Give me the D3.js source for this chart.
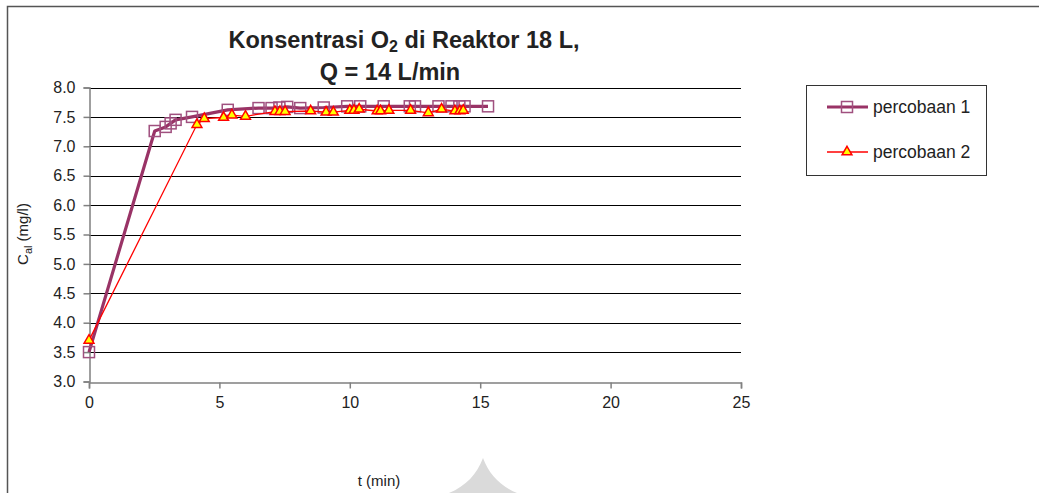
<!DOCTYPE html>
<html>
<head>
<meta charset="utf-8">
<script src="https://cdn.jsdelivr.net/npm/d3@7"></script>
<style>
  html, body { margin: 0; padding: 0; background: #fff; }
  svg { display: block; font-family: Arial, "Liberation Sans", sans-serif; }
</style>
</head>
<body>
<svg id="chart" width="1039" height="493"></svg>
<script>
// Oxygen concentration in the 18 L reactor, Q = 14 L/min
const series1Time = [0, 2.52, 2.94, 3.13, 3.32, 3.95, 5.32, 6.5, 7.0, 7.3, 7.6, 8.1, 9.0, 9.9, 10.4, 11.3, 12.3, 12.5, 13.4, 13.9, 14.2, 14.4, 15.3];
const series1Value = [3.5, 7.26, 7.33, 7.39, 7.45, 7.5, 7.62, 7.65, 7.65, 7.66, 7.67, 7.65, 7.66, 7.68, 7.68, 7.68, 7.68, 7.68, 7.68, 7.68, 7.68, 7.68, 7.68];

const series2Time = [0, 4.14, 4.42, 5.16, 5.48, 6.0, 7.13, 7.32, 7.52, 8.5, 9.09, 9.37, 10.0, 10.16, 10.36, 11.05, 11.18, 11.5, 12.33, 13.01, 13.52, 14.03, 14.22, 14.35];
const series2Value = [3.7, 7.37, 7.47, 7.49, 7.53, 7.51, 7.59, 7.59, 7.59, 7.6, 7.58, 7.58, 7.61, 7.61, 7.63, 7.6, 7.6, 7.61, 7.61, 7.57, 7.63, 7.6, 7.6, 7.61];

const seriesNames = ["percobaan 1", "percobaan 2"];
const xTicks = [0, 5, 10, 15, 20, 25];
const yTicks = [3.0, 3.5, 4.0, 4.5, 5.0, 5.5, 6.0, 6.5, 7.0, 7.5, 8.0];

const svg = d3.select("#chart");
const W = 1039, H = 493;

// outer chart frame (runs past the right and bottom edges)
svg.append("rect")
  .attr("x", 7.5).attr("y", 6.5)
  .attr("width", W + 20).attr("height", H + 20)
  .attr("fill", "none").attr("stroke", "#555").attr("stroke-width", 1.5);

const x = d3.scaleLinear().domain([0, 25]).range([89, 741]);
const y = d3.scaleLinear().domain([3, 8]).range([381.5, 87.5]);

// horizontal gridlines
svg.append("g").selectAll("line")
  .data(yTicks.filter(v => v > 3))
  .join("line")
  .attr("x1", x(0)).attr("x2", x(25))
  .attr("y1", d => Math.round(y(d)) + 0.5).attr("y2", d => Math.round(y(d)) + 0.5)
  .attr("stroke", "#000").attr("stroke-width", 1);

// axes
const xAxis = svg.append("g")
  .attr("transform", `translate(0,${Math.round(y(3)) + 0.5})`)
  .call(d3.axisBottom(x).tickValues(xTicks).tickSize(6).tickPadding(8).tickFormat(d3.format("d")));
const yAxis = svg.append("g")
  .attr("transform", `translate(${x(0) + 0.5},0)`)
  .call(d3.axisLeft(y).tickValues(yTicks).tickSize(6).tickPadding(8).tickFormat(d3.format(".1f")));

[xAxis, yAxis].forEach(g => {
  g.select(".domain").attr("stroke", "#808080").attr("stroke-width", 1.5);
  g.selectAll(".tick line").attr("stroke", "#808080").attr("stroke-width", 1.5);
  g.selectAll(".tick text").attr("fill", "#222").style("font-size", "16px")
    .style("font-family", "Arial, 'Liberation Sans', sans-serif");
});

const pts1 = series1Time.map((t, i) => [t, series1Value[i]]);
const pts2 = series2Time.map((t, i) => [t, series2Value[i]]);

// series 1: thick purple line with open squares
svg.append("path")
  .datum(pts1)
  .attr("fill", "none").attr("stroke", "#993366").attr("stroke-width", 3.2)
  .attr("stroke-linejoin", "round")
  .attr("d", d3.line().x(d => x(d[0])).y(d => y(d[1])));

const sq = 11;
svg.append("g").selectAll("rect")
  .data(pts1)
  .join("rect")
  .attr("x", d => x(d[0]) - sq / 2).attr("y", d => y(d[1]) - sq / 2)
  .attr("width", sq).attr("height", sq)
  .attr("fill", "none").attr("stroke", "#a0507f").attr("stroke-width", 1.5);

// series 2: thin red line with yellow triangles
svg.append("path")
  .datum(pts2)
  .attr("fill", "none").attr("stroke", "#ff0000").attr("stroke-width", 1.3)
  .attr("d", d3.line().x(d => x(d[0])).y(d => y(d[1])));

const tri = d3.symbol().type(d3.symbolTriangle).size(42);
svg.append("g").selectAll("path")
  .data(pts2)
  .join("path")
  .attr("transform", d => `translate(${x(d[0])},${y(d[1])})`)
  .attr("d", tri)
  .attr("fill", "#ffff00").attr("stroke", "#ff0000").attr("stroke-width", 1.5)
  .attr("stroke-linejoin", "miter");

// title
const title = svg.append("text")
  .attr("x", 404).attr("y", 48)
  .attr("text-anchor", "middle")
  .style("font-weight", "bold").style("font-size", "23.5px").attr("fill", "#222");
title.append("tspan").text("Konsentrasi O");
title.append("tspan").text("2").attr("dy", 4).style("font-size", "16px");
title.append("tspan").text(" di Reaktor 18 L,").attr("dy", -4);
svg.append("text")
  .attr("x", 390).attr("y", 80)
  .attr("text-anchor", "middle")
  .style("font-weight", "bold").style("font-size", "23.5px").attr("fill", "#222")
  .text("Q = 14 L/min");

// axis titles
const yTitle = svg.append("text")
  .attr("transform", "translate(28,234) rotate(-90)")
  .attr("text-anchor", "middle")
  .style("font-size", "15px").attr("fill", "#222");
yTitle.append("tspan").text("C");
yTitle.append("tspan").text("al").attr("dy", 4).style("font-size", "11px");
yTitle.append("tspan").text(" (mg/l)").attr("dy", -4);

svg.append("text")
  .attr("x", 379).attr("y", 486)
  .attr("text-anchor", "middle")
  .style("font-size", "15px").attr("fill", "#222")
  .text("t (min)");

// legend
const legend = svg.append("g");
legend.append("rect")
  .attr("x", 806.5).attr("y", 85.5).attr("width", 180).attr("height", 90)
  .attr("fill", "#fff").attr("stroke", "#333").attr("stroke-width", 1);

const legY = [107, 152];
legend.append("line")
  .attr("x1", 827).attr("x2", 868).attr("y1", legY[0]).attr("y2", legY[0])
  .attr("stroke", "#993366").attr("stroke-width", 3.2);
legend.append("rect")
  .attr("x", 847 - sq / 2).attr("y", legY[0] - sq / 2).attr("width", sq).attr("height", sq)
  .attr("fill", "none").attr("stroke", "#a0507f").attr("stroke-width", 1.5);
legend.append("line")
  .attr("x1", 827).attr("x2", 868).attr("y1", legY[1]).attr("y2", legY[1])
  .attr("stroke", "#ff0000").attr("stroke-width", 1.3);
legend.append("path")
  .attr("transform", `translate(847,${legY[1]})`)
  .attr("d", tri)
  .attr("fill", "#ffff00").attr("stroke", "#ff0000").attr("stroke-width", 1.5);
legend.selectAll("text.lab")
  .data(seriesNames)
  .join("text")
  .attr("class", "lab")
  .attr("x", 873).attr("y", (d, i) => legY[i] + 6)
  .style("font-size", "17.5px").attr("fill", "#222")
  .text(d => d);

// faint grey mark at the bottom edge of the page
svg.append("path")
  .attr("d", "M483,458 C489,474 500,486 517,493 L449,493 C466,486 477,474 483,458 Z")
  .attr("fill", "#dadada");
</script>
</body>
</html>
